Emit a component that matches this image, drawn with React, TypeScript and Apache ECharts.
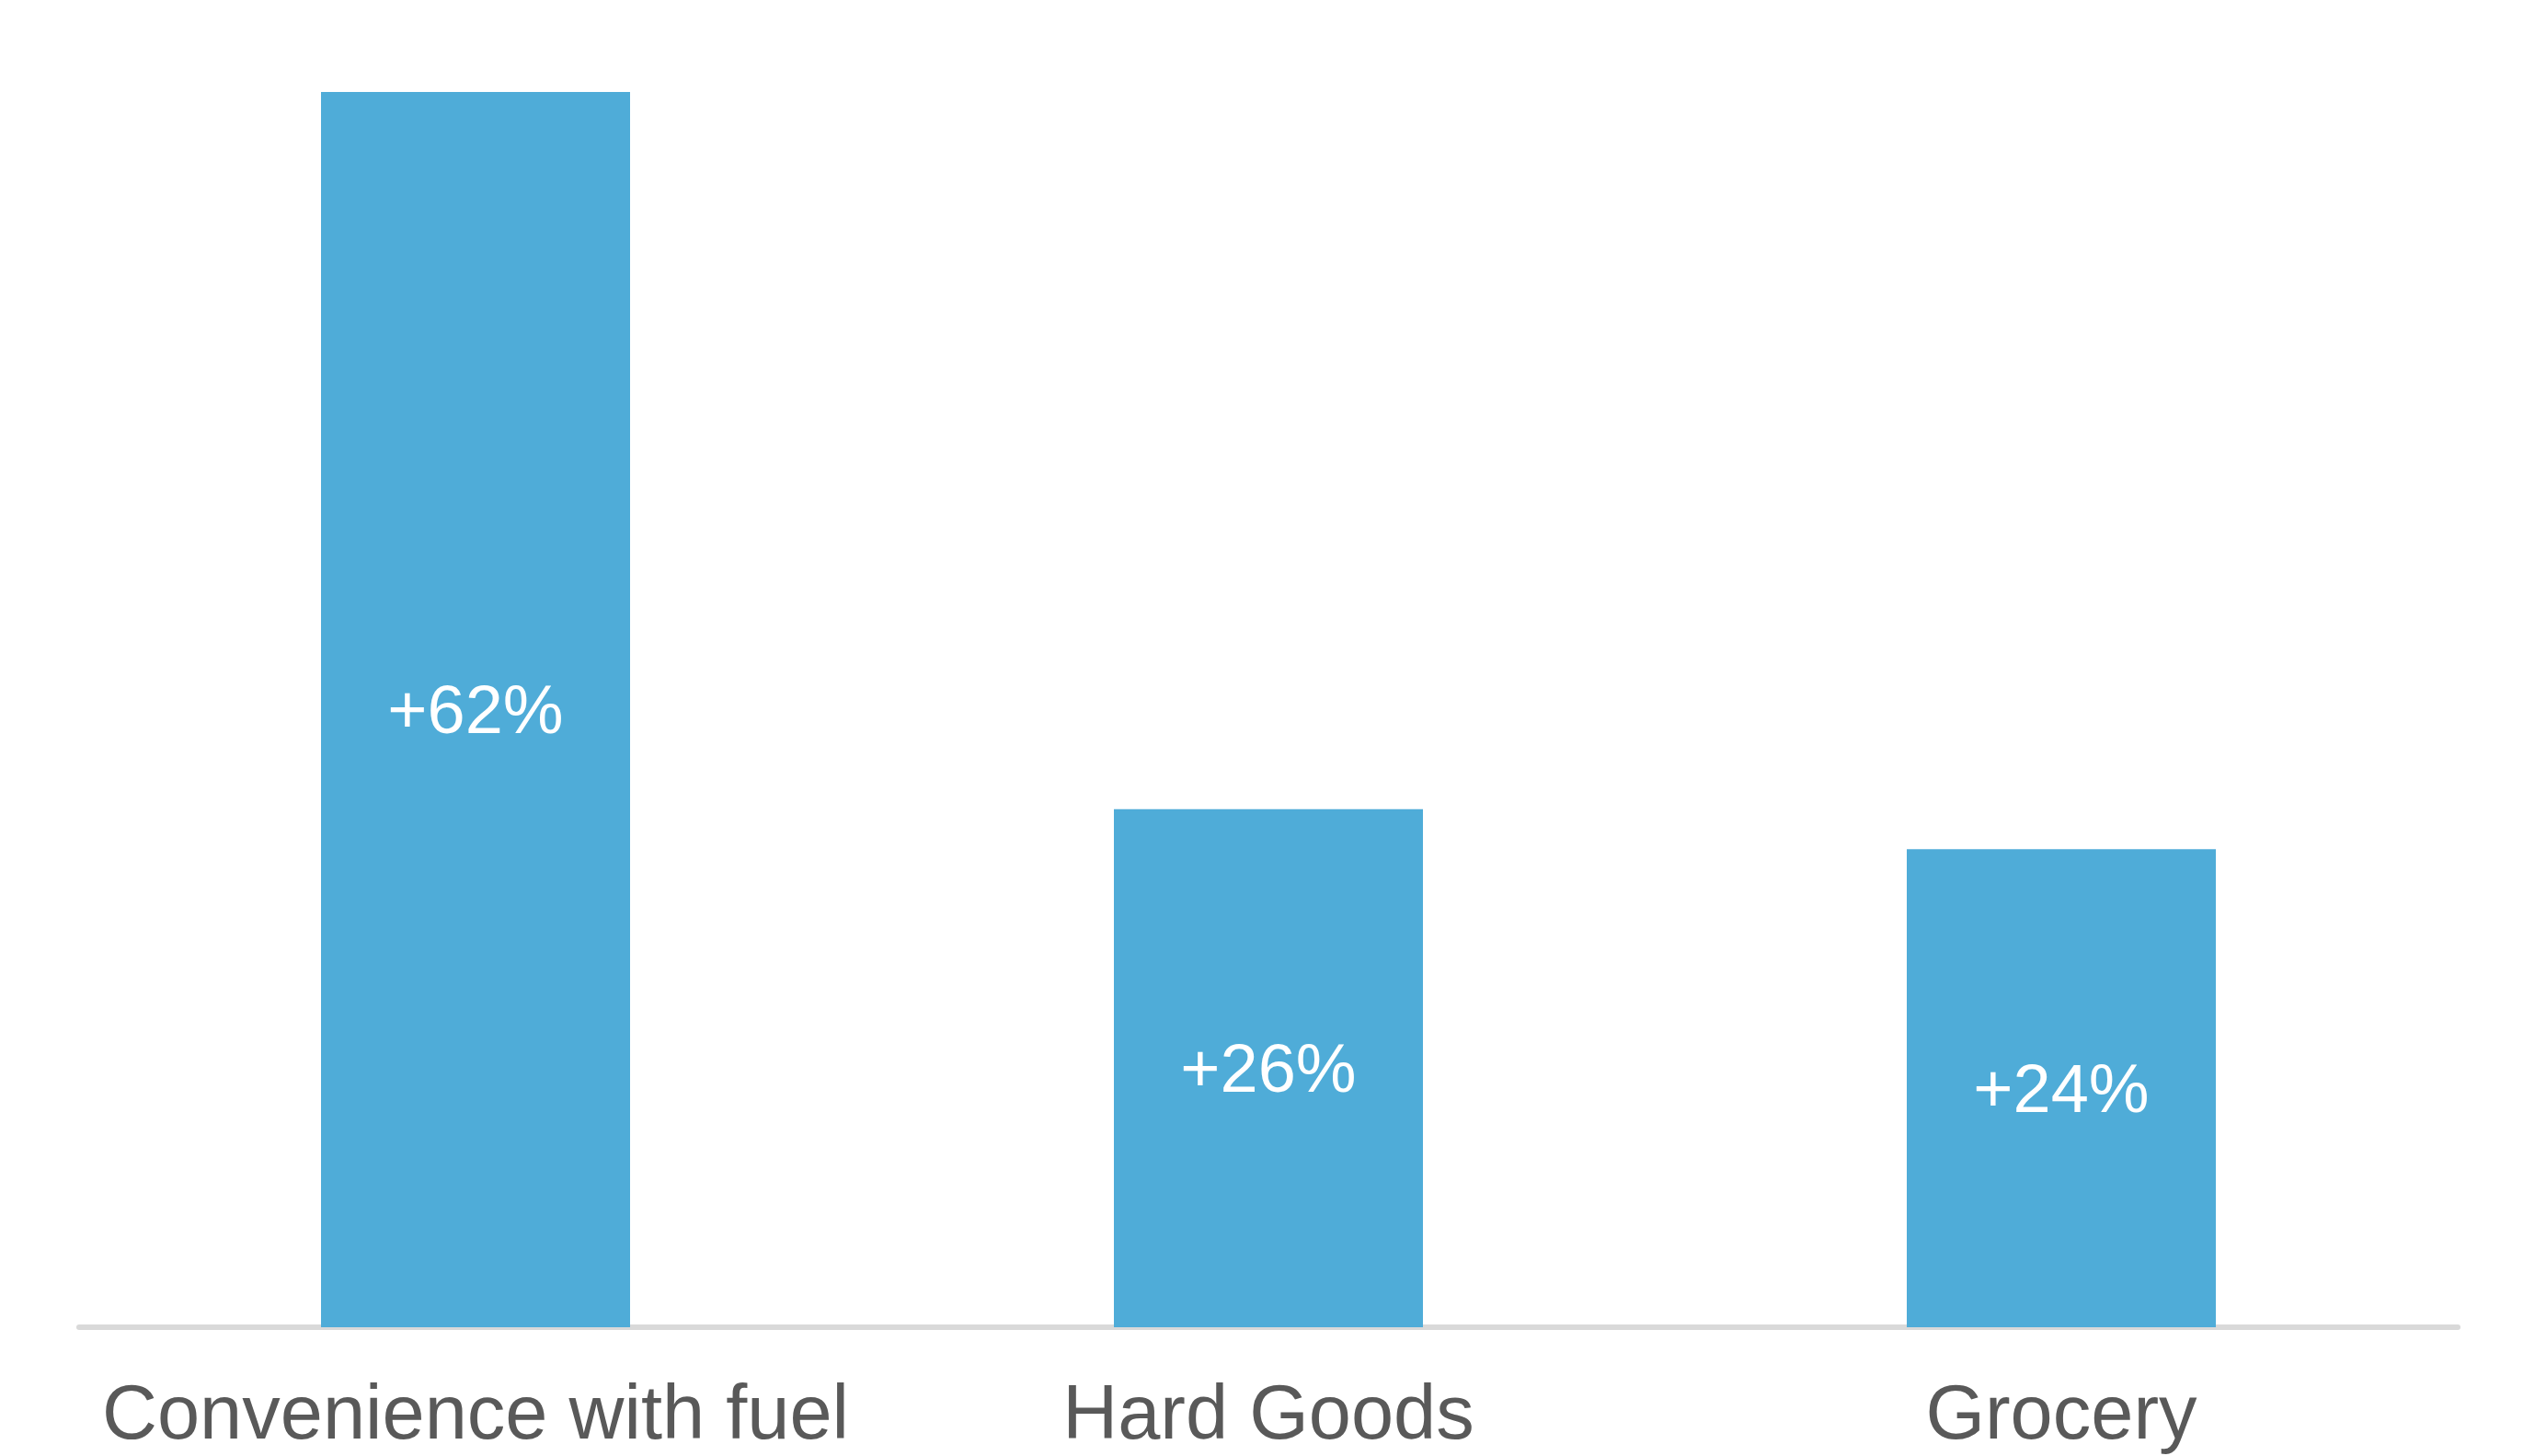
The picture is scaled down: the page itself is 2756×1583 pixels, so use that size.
import React, { useEffect, useRef } from "react";
import * as echarts from "echarts";

const categories = ["Convenience with fuel", "Hard Goods", "Grocery"];
const values = [62, 26, 24];
const valueLabels = ["+62%", "+26%", "+24%"];

export default function App() {
  const ref = useRef<HTMLDivElement>(null);
  useEffect(() => {
    document.body.style.margin = "0";
    const chart = echarts.init(ref.current!, null, { renderer: "svg" });
    chart.setOption({
      animation: false,
      backgroundColor: "#ffffff",
      grid: { left: 86, right: 84, top: 100, bottom: 140, containLabel: false },
      xAxis: {
        type: "category",
        data: categories,
        axisLine: { show: true, lineStyle: { color: "#d9d9d9", width: 6 } },
        axisTick: { show: false },
        axisLabel: {
          color: "#595959",
          fontSize: 83,
          lineHeight: 76,
          fontFamily: "Liberation Sans, Arial, sans-serif",
          margin: 54,
          interval: 0,
        },
      },
      yAxis: {
        type: "value",
        min: 0,
        max: 62,
        show: false,
        splitLine: { show: false },
      },
      series: [
        {
          type: "bar",
          data: values,
          barWidth: 336,
          itemStyle: { color: "#4FACD8" },
          label: {
            show: true,
            position: "inside",
            color: "#ffffff",
            fontSize: 74,
            fontFamily: "Liberation Sans, Arial, sans-serif",
            formatter: (p: any) => valueLabels[p.dataIndex],
          },
        },
      ],
    });
    return () => chart.dispose();
  }, []);
  return <div ref={ref} style={{ width: 2756, height: 1583 }} />;
}
